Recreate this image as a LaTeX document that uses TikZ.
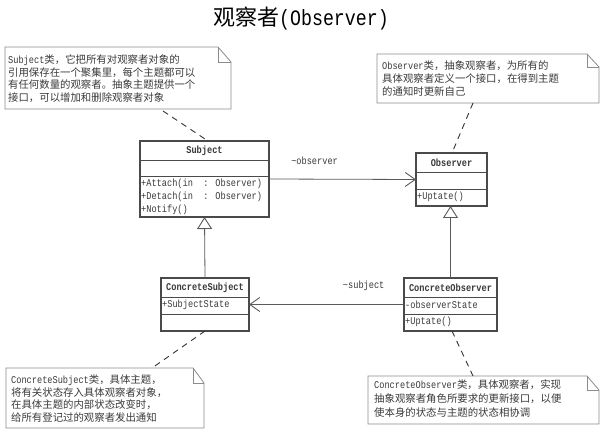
\documentclass[tikz,border=0pt]{standalone}
\usepackage{fontspec}
\setmainfont{Noto Sans CJK SC}
\newfontfamily\latmono[FakeStretch=0.83]{Liberation Mono}
\newcommand\la[1]{{\latmono #1}}
\usetikzlibrary{arrows.meta,calc}
\definecolor{txt}{HTML}{3A3A3A}
\definecolor{boxc}{HTML}{4A4A4A}
\definecolor{notec}{HTML}{8C8C8C}
\definecolor{linec}{HTML}{5A5A5A}
\newcommand\drawnote[3]{% name, fold w, fold h
  \draw[noteline] (#1.north west) -- ([xshift=-#2]#1.north east) -- ([yshift=-#3]#1.north east)
     -- (#1.south east) -- (#1.south west) -- cycle;
  \draw[noteline] ([xshift=-#2]#1.north east) -- ([xshift=-#2,yshift=-#3]#1.north east) -- ([yshift=-#3]#1.north east);
}
\begin{document}
\begin{tikzpicture}[x=1pt,y=1pt,
  clsbox/.style={draw=boxc, line width=1.1pt, fill=white, inner sep=0pt, outer sep=0pt, anchor=north west},
  clsline/.style={draw=boxc, line width=0.9pt},
  clsname/.style={font=\latmono\bfseries\fontsize{10.4}{12}\selectfont, text=txt, inner sep=0pt},
  member/.style={font=\latmono\fontsize{10.4}{12}\selectfont, text=txt, inner sep=0pt, anchor=west},
  notebox/.style={inner sep=0pt, outer sep=0pt, anchor=north west},
  noteline/.style={draw=notec, line width=0.8pt},
  notetext/.style={font=\fontsize{10.4}{12.7}\selectfont, text=txt, inner sep=0pt, anchor=north west, align=left},
  assoc/.style={draw=linec, line width=0.8pt, -{Straight Barb[length=10pt,width=14pt,line width=0.9pt]}},
  gen/.style={draw=linec, line width=0.8pt, -{Triangle[open,length=12pt,width=15pt,line width=0.9pt,fill=white]}},
  anchorline/.style={draw=black!80, line width=0.9pt, dash pattern=on 6pt off 5pt},
  lbl/.style={font=\latmono\fontsize{10.4}{12}\selectfont, text=txt, inner sep=0pt}
]
\useasboundingbox (0,0) rectangle (600,-430);
\fill[white] (0,0) rectangle (600,-430);

% title
\node[font=\fontsize{22}{26}\selectfont, text=black, inner sep=0pt] (title) at (301,-19) {观察者\la{(Observer)}};

% ---------- classes ----------
\node[clsbox, minimum width=129pt, minimum height=76pt] (subject) at (140,-141) {};
\draw[clsline] ([yshift=-19]subject.north west) -- ([yshift=-19]subject.north east);
\draw[clsline] ([yshift=-35]subject.north west) -- ([yshift=-35]subject.north east);
\node[clsname] (subjectN) at ([yshift=-9.5]subject.north) {Subject};
\node[member] (subjectM1) at ([xshift=1,yshift=-43]subject.north west) {+Attach(in\ \ : Observer)};
\node[member] (subjectM2) at ([xshift=1,yshift=-56]subject.north west) {+Detach(in\ \ : Observer)};
\node[member] (subjectM3) at ([xshift=1,yshift=-69]subject.north west) {+Notify()};

\node[clsbox, minimum width=71pt, minimum height=53pt] (observer) at (416,-153) {};
\draw[clsline] ([yshift=-19]observer.north west) -- ([yshift=-19]observer.north east);
\draw[clsline] ([yshift=-36]observer.north west) -- ([yshift=-36]observer.north east);
\node[clsname] (observerN) at ([yshift=-9.5]observer.north) {Observer};
\node[member] (observerM1) at ([xshift=1,yshift=-44]observer.north west) {+Uptate()};

\node[clsbox, minimum width=88pt, minimum height=53pt] (csubject) at (161,-278) {};
\draw[clsline] ([yshift=-19]csubject.north west) -- ([yshift=-19]csubject.north east);
\draw[clsline] ([yshift=-36]csubject.north west) -- ([yshift=-36]csubject.north east);
\node[clsname] (csubjectN) at ([yshift=-9.5]csubject.north) {ConcreteSubject};
\node[member] (csubjectA1) at ([xshift=1,yshift=-27]csubject.north west) {+SubjectState};

\node[clsbox, minimum width=93pt, minimum height=53pt] (cobserver) at (404,-278) {};
\draw[clsline] ([yshift=-19]cobserver.north west) -- ([yshift=-19]cobserver.north east);
\draw[clsline] ([yshift=-36]cobserver.north west) -- ([yshift=-36]cobserver.north east);
\node[clsname] (cobserverN) at ([yshift=-9.5]cobserver.north) {ConcreteObserver};
\node[member] (cobserverA1) at ([xshift=1,yshift=-27]cobserver.north west) {-observerState};
\node[member] (cobserverM1) at ([xshift=1,yshift=-44]cobserver.north west) {+Uptate()};

% ---------- relations ----------
\draw[assoc] (subject.east) -- (observer.west)
  node[lbl, pos=0.31, yshift=18.5] (lblobs) {\textasciitilde observer};
\draw[assoc] (cobserver.west) -- (csubject.east)
  node[lbl, pos=0.26, yshift=18.5] (lblsub) {\textasciitilde subject};
\draw[gen] (csubject.north) -- (subject.south);
\draw[gen] (cobserver.north) -- (cobserver.north |- observer.south);

% ---------- notes ----------
\node[notebox, minimum width=226pt, minimum height=62pt] (note1) at (5,-47) {};
\drawnote{note1}{13}{15}
\node[notetext] (note1T) at (8,-54.5) {\la{Subject}类，它把所有对观察者对象的\\引用保存在一个聚集里，每个主题都可以\\有任何数量的观察者。抽象主题提供一个\\接口，可以增加和删除观察者对象};

\node[notebox, minimum width=222pt, minimum height=49pt] (note2) at (377,-54) {};
\drawnote{note2}{12}{13}
\node[notetext] (note2T) at (382,-61) {\la{Observer}类，抽象观察者，为所有的\\具体观察者定义一个接口，在得到主题\\的通知时更新自己};

\node[notebox, minimum width=198pt, minimum height=60pt] (note3) at (6,-368) {};
\drawnote{note3}{11}{15}
\node[notetext] (note3T) at (11,-374.5) {\la{ConcreteSubject}类，具体主题，\\将有关状态存入具体观察者对象，\\在具体主题的内部状态改变时，\\给所有登记过的观察者发出通知};

\node[notebox, minimum width=231pt, minimum height=48pt] (note4) at (368,-376) {};
\drawnote{note4}{12}{14}
\node[notetext, font=\fontsize{10.4}{14}\selectfont] (note4T) at (374,-379) {\la{ConcreteObserver}类，具体观察者，实现\\抽象观察者角色所要求的更新接口，以便\\使本身的状态与主题的状态相协调};

% ---------- note anchors ----------
\draw[anchorline] ([xshift=158,yshift=-2]note1.south west) -- ([xshift=68]subject.north west);
\draw[anchorline] ([xshift=96]note2.south west) -- ([xshift=36]observer.north west);
\draw[anchorline] (csubject.south) -- ([xshift=146]note3.north west);
\draw[anchorline] ([xshift=48]cobserver.south west) -- ([xshift=105]note4.north west);
\end{tikzpicture}
\end{document}
